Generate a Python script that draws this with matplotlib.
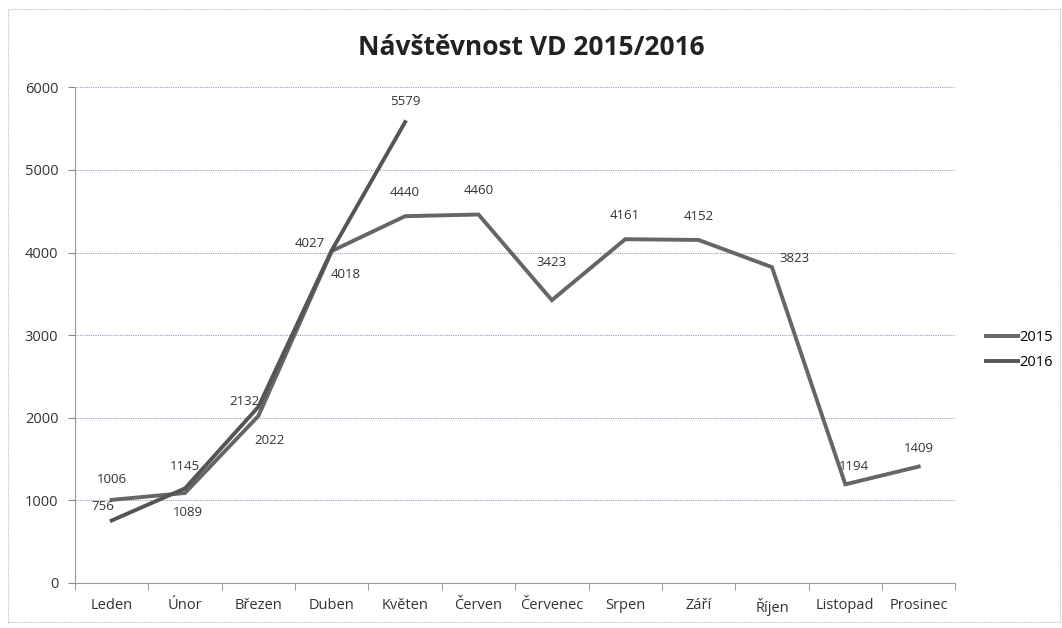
import matplotlib
matplotlib.use("Agg")
import matplotlib.pyplot as plt
from matplotlib.patches import Rectangle
from matplotlib.ticker import FixedLocator

months = ["Leden", "Únor", "Březen", "Duben", "Květen", "Červen", "Červenec",
          "Srpen", "Září", "Říjen", "Listopad", "Prosinec"]
visits_2015 = [1006, 1089, 2022, 4018, 4440, 4460, 3423, 4161, 4152, 3823, 1194, 1409]
visits_2016 = [756, 1145, 2132, 4027, 5579]

# label offsets in points (dx, dy), roughly like the Excel placement
off_2015 = [(0, 15), (2, -14), (8, -18), (10, -17), (0, 17), (0, 17),
            (0, 27), (0, 17), (0, 17), (16, 6), (6, 13), (0, 13)]
off_2016 = [(-6, 10), (0, 16), (-10, 4), (-16, 5), (0, 15)]

plt.rcParams['font.family'] = ['Open Sans', 'DejaVu Sans']

fig = plt.figure(figsize=(10.62, 6.28), dpi=100)
ax = fig.add_axes([0.0706, 0.0717, 0.8290, 0.7893])

ax.plot(range(len(visits_2015)), visits_2015, color="#666666", lw=2.8,
        label="2015", solid_joinstyle="miter")
ax.plot(range(len(visits_2016)), visits_2016, color="#555555", lw=2.8,
        label="2016", solid_joinstyle="miter")

for i, v in enumerate(visits_2015):
    ax.annotate(str(v), (i, v), xytext=off_2015[i], textcoords="offset points",
                ha="center", va="center", fontsize=9.5, color="#333333")
for i, v in enumerate(visits_2016):
    ax.annotate(str(v), (i, v), xytext=off_2016[i], textcoords="offset points",
                ha="center", va="center", fontsize=9.5, color="#333333")

ax.set_xlim(-0.5, len(months) - 0.5)
ax.set_ylim(0, 6000)
ax.set_yticks(range(0, 6001, 1000))
ax.set_xticks(range(len(months)))
ax.set_xticklabels(months)
ax.xaxis.set_minor_locator(FixedLocator([i + 0.5 for i in range(-1, len(months))]))
ax.tick_params(axis="x", which="major", length=0, pad=11, labelsize=10.5, colors="#333333")
ax.tick_params(axis="x", which="minor", length=5, color="#888888")
ax.tick_params(axis="y", length=5, color="#888888", labelsize=10.5, labelcolor="#333333", pad=7)

ax.grid(axis="y", color="#9a98c0", linestyle=(0, (1, 1)), linewidth=0.8)
ax.set_axisbelow(True)
for s in ["top", "right"]:
    ax.spines[s].set_visible(False)
ax.spines["left"].set_color("#999999")
ax.spines["left"].set_linestyle((0, (1, 1)))
ax.spines["bottom"].set_color("#9a98c0")
ax.spines["bottom"].set_linestyle((0, (1, 1)))

fig.text(0.5, 0.925, "Návštěvnost VD 2015/2016", ha="center", va="center",
         fontsize=19, fontweight="bold", color="#222222")

ax.legend(loc="center left", bbox_to_anchor=(1.02, 0.47), frameon=False,
          fontsize=10.5, handlelength=2.2, handletextpad=0.1, labelspacing=0.7)

fig.patches.append(Rectangle((0.008, 0.01), 0.99, 0.975, transform=fig.transFigure,
                             fill=False, edgecolor="#bbbbbb", lw=0.8,
                             linestyle=(0, (1, 1))))

fig.savefig("out.png", dpi=100)
